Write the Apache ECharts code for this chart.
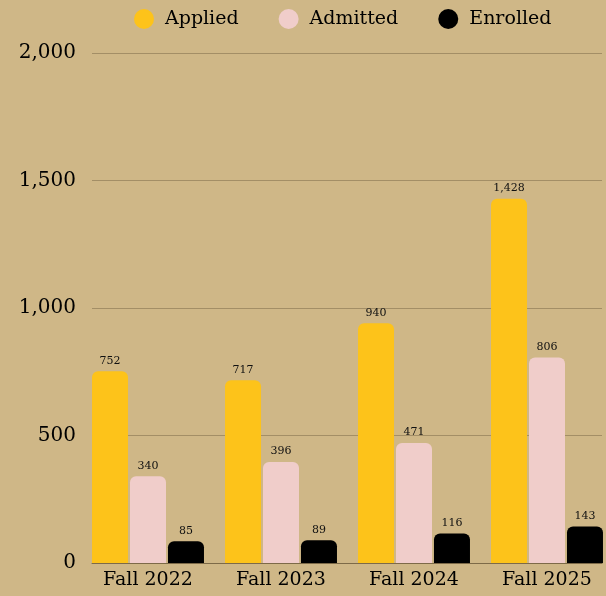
<!DOCTYPE html>
<html lang="en">
<head>
    <meta charset="UTF-8">
    <title>Applications</title>
    <script src="https://cdn.jsdelivr.net/npm/echarts@6/dist/echarts.min.js"></script>
    <style>
        html, body { margin: 0; padding: 0; background: #cfb787; }
        #chart { width: 606px; height: 596px; }
    </style>
</head>
<body>
    <div id="chart"></div>
    <script type="text/javascript">
        var terms = ['Fall 2022', 'Fall 2023', 'Fall 2024', 'Fall 2025'];
        var applied = [752, 717, 940, 1428];
        var admitted = [340, 396, 471, 806];
        var enrolled = [85, 89, 116, 143];
        var seriesNames = ['Applied', 'Admitted', 'Enrolled'];
        var colors = ['#fdc31a', '#f0cdca', '#000000'];

        var font = 'DejaVu Serif';
        var myChart = echarts.init(document.getElementById('chart'));

        function barSeries(i, data) {
            return {
                name: seriesNames[i],
                type: 'bar',
                xAxisIndex: 1,
                yAxisIndex: 1,
                data: data,
                barWidth: 36,
                barGap: '5.5%',
                itemStyle: { color: colors[i], borderRadius: [6, 6, 0, 0] },
                label: {
                    show: true,
                    position: 'top',
                    distance: 5,
                    fontFamily: font,
                    fontSize: 11,
                    color: '#111',
                    formatter: function (p) { return p.value.toLocaleString('en-US'); }
                }
            };
        }

        var option = {
            backgroundColor: '#cfb787',
            animation: false,
            textStyle: { fontFamily: font },
            legend: {
                top: 4,
                left: 129,
                icon: 'circle',
                itemWidth: 20,
                itemHeight: 20,
                itemGap: 40,
                textStyle: { fontFamily: font, fontSize: 19, color: '#000', padding: [0, 0, 0, 6] },
                data: seriesNames
            },
            grid: [
                { left: 92, right: 4, top: 53, bottom: 33, outerBoundsMode: 'none' },
                { left: 81.5, width: 532, top: 53, bottom: 33, outerBoundsMode: 'none' }
            ],
            xAxis: [{
                gridIndex: 0,
                type: 'value',
                min: 0,
                max: 1,
                axisLine: { show: true, lineStyle: { color: '#7d6a48', width: 1 } },
                axisTick: { show: false },
                axisLabel: { show: false },
                splitLine: { show: false }
            }, {
                gridIndex: 1,
                type: 'category',
                data: terms,
                axisLine: { show: false },
                axisTick: { show: false },
                axisLabel: { margin: 8, fontFamily: font, fontSize: 19, color: '#000' }
            }],
            yAxis: [{
                gridIndex: 0,
                type: 'value',
                min: 0,
                max: 2000,
                interval: 500,
                axisLine: { show: false },
                axisTick: { show: false },
                axisLabel: {
                    margin: 16,
                    fontFamily: font,
                    fontSize: 20,
                    color: '#000',
                    formatter: function (v) { return v.toLocaleString('en-US'); }
                },
                splitLine: { lineStyle: { color: '#a38e66', width: 1 } }
            }, {
                gridIndex: 1,
                type: 'value',
                min: 0,
                max: 2000,
                show: false
            }],
            series: [
                barSeries(0, applied),
                barSeries(1, admitted),
                barSeries(2, enrolled)
            ]
        };

        myChart.setOption(option);
    </script>
</body>
</html>
